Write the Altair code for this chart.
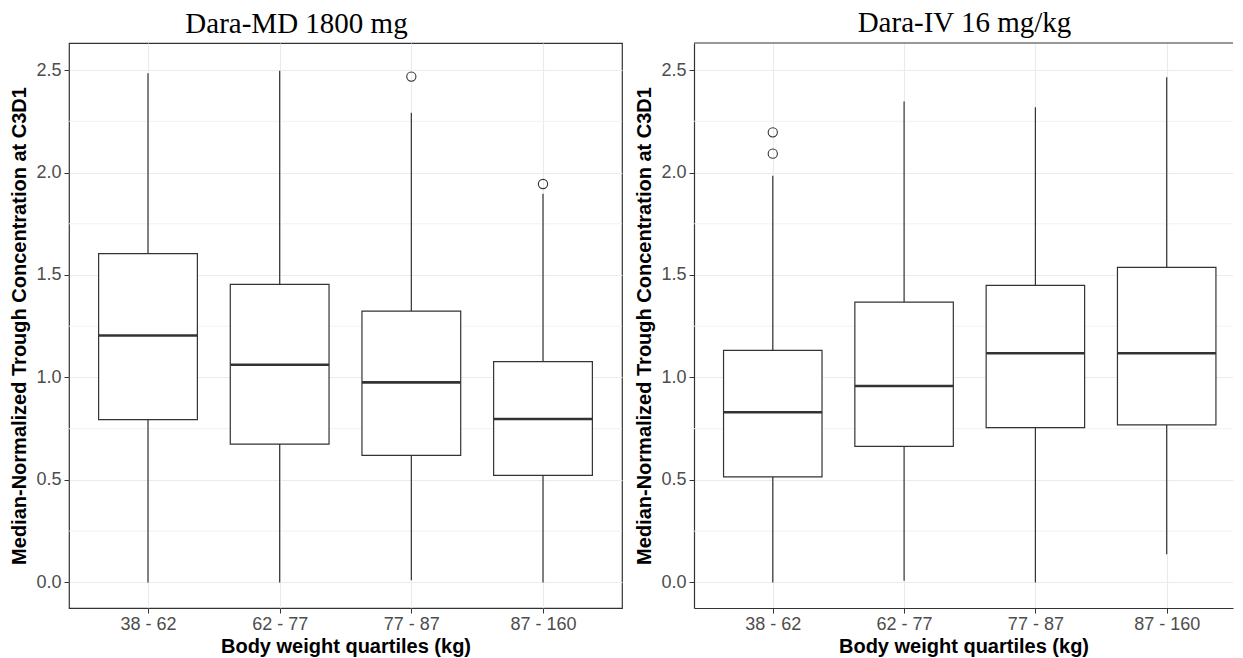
import json
import altair as alt
import pandas as pd

# ---------------- data ----------------
groups = ["38 - 62", "62 - 77", "77 - 87", "87 - 160"]
positions = [1, 2, 3, 4]

# Dara-MD 1800 mg
md_low = [0.0, 0.0, 0.01, 0.0]
md_q1 = [0.794, 0.675, 0.620, 0.522]
md_med = [1.205, 1.062, 0.976, 0.797]
md_q3 = [1.604, 1.454, 1.324, 1.077]
md_high = [2.484, 2.497, 2.292, 1.897]
md_out_group = ["77 - 87", "87 - 160"]
md_out_val = [2.468, 1.944]

# Dara-IV 16 mg/kg
iv_low = [0.0, 0.008, 0.0, 0.137]
iv_q1 = [0.515, 0.664, 0.755, 0.769]
iv_med = [0.830, 0.958, 1.118, 1.118]
iv_q3 = [1.132, 1.368, 1.449, 1.537]
iv_high = [1.984, 2.347, 2.318, 2.465]
iv_out_group = ["38 - 62", "38 - 62"]
iv_out_val = [2.196, 2.092]

y_major = [0.0, 0.5, 1.0, 1.5, 2.0, 2.5]
y_minor = [0.25, 0.75, 1.25, 1.75, 2.25]
y_domain = [-0.125, 2.632]

y_title = "Median-Normalized Trough Concentration at C3D1"
x_title = "Body weight quartiles (kg)"

INK = "#333333"
GRID = "#EBEBEB"
SANS = "Liberation Sans"
SERIF = "Liberation Serif"

label_expr = json.dumps(groups) + "[datum.value - 1]"


def panel(title, low, q1, med, q3, high, out_g, out_v, width, xmax, title_dx, framed):
    box = pd.DataFrame({"pos": positions, "group": groups, "low": low, "q1": q1,
                        "med": med, "q3": q3, "high": high})
    outl = pd.DataFrame({"pos": [positions[groups.index(g)] for g in out_g], "val": out_v})
    minor = pd.DataFrame({"v": y_minor})

    xscale = alt.Scale(domain=[0.4, xmax], nice=False, zero=False)
    yscale = alt.Scale(domain=y_domain, nice=False, zero=False)
    xaxis = alt.Axis(values=positions, labelExpr=label_expr, title=x_title,
                     grid=True, gridColor=GRID, gridWidth=1.1,
                     domain=not framed, domainColor=INK, domainWidth=1.2,
                     ticks=True, tickColor=INK, tickSize=5, tickWidth=1,
                     labelFont=SANS, labelFontSize=18, labelColor="#4D4D4D",
                     labelBaseline="alphabetic", labelPadding=16,
                     titleFont=SANS, titleFontSize=20, titleFontWeight="bold",
                     titleColor="black", titleBaseline="alphabetic", titlePadding=19)
    yaxis = alt.Axis(values=y_major, format=".1f", title=y_title,
                     grid=True, gridColor=GRID, gridWidth=1.1,
                     domain=not framed, domainColor=INK, domainWidth=1.2,
                     ticks=True, tickColor=INK, tickSize=5, tickWidth=1,
                     labelFont=SANS, labelFontSize=18, labelColor="#4D4D4D", labelPadding=3,
                     titleFont=SANS, titleFontSize=20, titleFontWeight="bold",
                     titleColor="black", titlePadding=6)

    minor_grid = alt.Chart(minor).mark_rule(color="#EFEFEF", strokeWidth=0.9).encode(
        y=alt.Y("v:Q", scale=yscale, axis=yaxis))
    base = alt.Chart(box)
    whisk_hi = base.mark_rule(color=INK, strokeWidth=1.2).encode(
        x=alt.X("pos:Q", scale=xscale, axis=xaxis), y="q3:Q", y2="high:Q")
    whisk_lo = base.mark_rule(color=INK, strokeWidth=1.2).encode(
        x="pos:Q", y="low:Q", y2="q1:Q")
    spans = base.transform_calculate(x1="datum.pos - 0.375", x2="datum.pos + 0.375")
    rect = spans.mark_rect(fill="white", stroke=INK, strokeWidth=1.2).encode(
        x="x1:Q", x2="x2:Q", y="q1:Q", y2="q3:Q")
    medline = spans.mark_rule(color=INK, strokeWidth=2.6).encode(
        x="x1:Q", x2="x2:Q", y="med:Q")
    pts = alt.Chart(outl).mark_point(shape="circle", filled=False, size=85,
                                     color=INK, strokeWidth=1.1, opacity=1).encode(
        x="pos:Q", y="val:Q")

    layers = [minor_grid, whisk_hi, whisk_lo, rect, medline, pts]
    if not framed:
        # top border of the panel (the reference's right border is cropped away)
        top = alt.Chart(pd.DataFrame({"v": [y_domain[1]]})).mark_rule(
            color=INK, strokeWidth=1.2).encode(y="v:Q")
        layers.append(top)

    return alt.layer(*layers).properties(
        width=width, height=565,
        view=alt.ViewBackground(stroke=INK if framed else "transparent", strokeWidth=1.2),
        title=alt.Title(title, font=SERIF, fontSize=29, fontWeight="normal",
                        color="black", anchor="middle", dx=title_dx, offset=4),
    )


left = panel("Dara-MD 1800 mg", md_low, md_q1, md_med, md_q3, md_high,
             md_out_group, md_out_val, 553, 4.6, -49, True)
right = panel("Dara-IV 16 mg/kg", iv_low, iv_q1, iv_med, iv_q3, iv_high,
              iv_out_group, iv_out_val, 539, 4.505, 1, False)

chart = alt.hconcat(left, right, spacing=10).properties(
    padding={"left": 1, "top": 0, "right": 0, "bottom": 0}
)

chart.save("out.html", embed_options={"renderer": "svg", "actions": False})
